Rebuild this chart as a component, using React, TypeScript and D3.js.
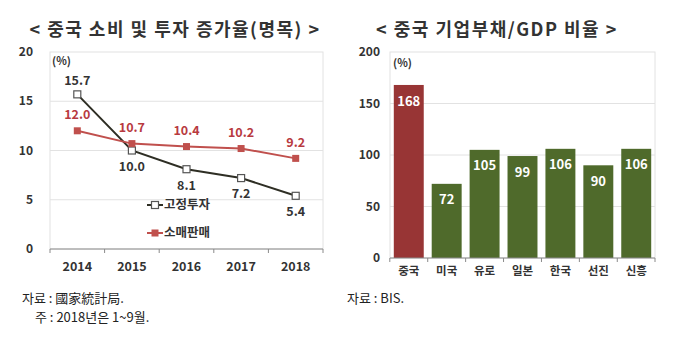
import * as d3 from "d3";

const years = ["2014", "2015", "2016", "2017", "2018"];
const investment = [15.7, 10.0, 8.1, 7.2, 5.4];
const retail = [12.0, 10.7, 10.4, 10.2, 9.2];
const lineTicks = [0, 5, 10, 15, 20];

const countries = ["중국", "미국", "유로", "일본", "한국", "선진", "신흥"];
const debtRatio = [168, 72, 105, 99, 106, 90, 106];
const barTicks = [0, 50, 100, 150, 200];

const FONT = "'Noto Sans CJK KR', 'Noto Sans', sans-serif";
const RED_LINE = "#c0504d";
const RED_LABEL = "#b83a3f";
const DARK_LINE = "#2e2e24";
const RED_BAR = "#983535";
const GREEN_BAR = "#4f6a2b";
const TEXT = "#333";

function LineChart() {
  const x = d3.scaleBand<string>().domain(years).range([50, 323]);
  const y = d3.scaleLinear().domain([0, 20]).range([249, 52]);
  const cx = (yr: string) => (x(yr) ?? 0) + x.bandwidth() / 2;
  const line = d3
    .line<number>()
    .x((_, i) => cx(years[i]))
    .y((d) => y(d));
  const bounds = [...years.map((yr) => x(yr) ?? 0), 323];

  return (
    <g fontFamily={FONT}>
      <text x={175} y={36} textAnchor="middle" fontSize={18} fontWeight={700} letterSpacing={1.5} fill={TEXT}>
        {"< 중국 소비 및 투자 증가율(명목) >"}
      </text>
      <rect x={50} y={52} width={273} height={197} fill="none" stroke="#e2e2e2" />
      {lineTicks.map((t) => (
        <g key={t}>
          {t > 0 && t < 20 && <line x1={50} x2={323} y1={y(t)} y2={y(t)} stroke="#e2e2e2" />}
          <text x={33} y={y(t)} dy="0.35em" textAnchor="end" fontSize={12} fontWeight={700} fill={TEXT}>
            {t}
          </text>
        </g>
      ))}
      <line x1={50} x2={323} y1={249} y2={249} stroke="#8a8a8a" />
      {bounds.map((b, i) => (
        <line key={i} x1={b} x2={b} y1={249} y2={253} stroke="#8a8a8a" />
      ))}
      {years.map((yr) => (
        <text key={yr} x={cx(yr)} y={267} dy="0.35em" textAnchor="middle" fontSize={12.5} fontWeight={700} fill={TEXT}>
          {yr}
        </text>
      ))}
      <text x={52} y={61} dy="0.35em" fontSize={11} fontWeight={700} fill={TEXT}>(%)</text>

      <path d={line(investment) ?? ""} fill="none" stroke={DARK_LINE} strokeWidth={2} />
      <path d={line(retail) ?? ""} fill="none" stroke={RED_LINE} strokeWidth={2} />
      {investment.map((v, i) => (
        <rect key={i} x={cx(years[i]) - 3.5} y={y(v) - 3.5} width={7} height={7} fill="#fff" stroke="#555" strokeWidth={1.2} />
      ))}
      {retail.map((v, i) => (
        <rect key={i} x={cx(years[i]) - 3.5} y={y(v) - 3.5} width={7} height={7} fill={RED_LINE} />
      ))}
      {investment.map((v, i) => (
        <text
          key={i}
          x={cx(years[i])}
          y={i === 0 ? y(v) - 14 : y(v) + 16}
          dy="0.35em"
          textAnchor="middle"
          fontSize={12.5}
          fontWeight={700}
          fill={TEXT}
        >
          {v.toFixed(1)}
        </text>
      ))}
      {retail.map((v, i) => (
        <text
          key={i}
          x={cx(years[i])}
          y={y(v) - 16}
          dy="0.35em"
          textAnchor="middle"
          fontSize={12.5}
          fontWeight={700}
          fill={RED_LABEL}
        >
          {v.toFixed(1)}
        </text>
      ))}

      <line x1={147} x2={163} y1={205} y2={205} stroke={DARK_LINE} strokeWidth={2} />
      <rect x={151.5} y={201.5} width={7} height={7} fill="#fff" stroke="#555" strokeWidth={1.2} />
      <text x={164} y={205} dy="0.35em" fontSize={12.5} fontWeight={700} fill={TEXT}>고정투자</text>
      <line x1={147} x2={163} y1={233} y2={233} stroke={RED_LINE} strokeWidth={2} />
      <rect x={151.5} y={229.5} width={7} height={7} fill={RED_LINE} />
      <text x={164} y={233} dy="0.35em" fontSize={12.5} fontWeight={700} fill={TEXT}>소매판매</text>
    </g>
  );
}

function BarChart() {
  const x = d3.scaleBand<string>().domain(countries).range([390, 655]).paddingInner(0.21).paddingOuter(0.1);
  const y = d3.scaleLinear().domain([0, 200]).range([258, 52]);
  const step = x.step();
  const bounds = countries.map((c) => (x(c) ?? 0) - (step - x.bandwidth()) / 2).concat([655]);

  return (
    <g fontFamily={FONT}>
      <text x={497} y={36} textAnchor="middle" fontSize={18} fontWeight={700} letterSpacing={1.5} fill={TEXT}>
        {"< 중국 기업부채/GDP 비율 >"}
      </text>
      <rect x={390} y={52} width={265} height={206} fill="none" stroke="#e2e2e2" />
      {barTicks.map((t) => (
        <g key={t}>
          {t > 0 && t < 200 && <line x1={390} x2={655} y1={y(t)} y2={y(t)} stroke="#e2e2e2" />}
          <text x={380} y={y(t)} dy="0.35em" textAnchor="end" fontSize={12} fontWeight={700} fill={TEXT}>
            {t}
          </text>
        </g>
      ))}
      <text x={393} y={63} dy="0.35em" fontSize={11} fontWeight={700} fill={TEXT}>(%)</text>
      {countries.map((c, i) => (
        <g key={c}>
          <rect
            x={x(c)}
            y={y(debtRatio[i])}
            width={x.bandwidth()}
            height={258 - y(debtRatio[i])}
            fill={i === 0 ? RED_BAR : GREEN_BAR}
          />
          <text
            x={(x(c) ?? 0) + x.bandwidth() / 2}
            y={y(debtRatio[i]) + 16}
            dy="0.35em"
            textAnchor="middle"
            fontSize={13}
            fontWeight={700}
            fill="#fff"
          >
            {debtRatio[i]}
          </text>
          <text
            x={(x(c) ?? 0) + x.bandwidth() / 2}
            y={271}
            dy="0.35em"
            textAnchor="middle"
            fontSize={11.5}
            fontWeight={700}
            fill={TEXT}
          >
            {c}
          </text>
        </g>
      ))}
      <line x1={390} x2={655} y1={258} y2={258} stroke="#8a8a8a" />
      {bounds.map((b, i) => (
        <line key={i} x1={b} x2={b} y1={258} y2={262} stroke="#8a8a8a" />
      ))}
    </g>
  );
}

export default function App() {
  return (
    <svg
      width={680}
      height={352}
      style={{ position: "absolute", left: 0, top: 0, background: "#fff" }}
    >
      <rect width={680} height={352} fill="#fff" />
      <LineChart />
      <BarChart />
      <g fontFamily={FONT} fontSize={13} fill="#222">
        <text x={22} y={298} dy="0.35em">자료 : 國家統計局.</text>
        <text x={35} y={317} dy="0.35em">주 : 2018년은 1~9월.</text>
        <text x={347} y={298} dy="0.35em">자료 : BIS.</text>
      </g>
    </svg>
  );
}
